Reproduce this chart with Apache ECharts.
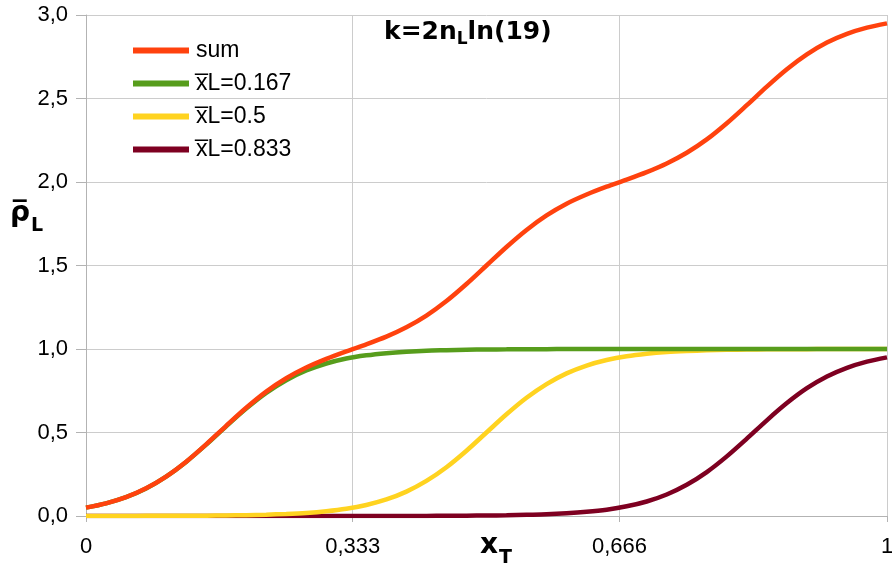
<!DOCTYPE html>
<html><head><meta charset="utf-8">
<script src="https://cdn.jsdelivr.net/npm/echarts@6/dist/echarts.min.js"></script>
<style>html,body{margin:0;padding:0;background:#fff}#c{width:892px;height:567px}</style>
</head><body><div id="c"></div>
<script>
const xs = [0,0.025,0.05,0.075,0.1,0.125,0.15,0.175,0.2,0.225,0.25,0.275,0.3,0.325,0.35,0.375,0.4,0.425,0.45,0.475,0.5,0.525,0.55,0.575,0.6,0.625,0.65,0.675,0.7,0.725,0.75,0.775,0.8,0.825,0.85,0.875,0.9,0.925,0.95,0.975,1];
const sumVals = [0.050,0.076,0.113,0.166,0.236,0.325,0.429,0.540,0.648,0.745,0.825,0.889,0.941,0.986,1.028,1.074,1.130,1.200,1.287,1.389,1.500,1.611,1.713,1.800,1.870,1.925,1.972,2.014,2.059,2.111,2.175,2.255,2.352,2.460,2.571,2.675,2.764,2.835,2.887,2.924,2.950];
const g167 = [0.050,0.076,0.113,0.165,0.236,0.324,0.427,0.537,0.643,0.737,0.813,0.871,0.913,0.943,0.962,0.975,0.984,0.990,0.993,0.996,0.997,0.998,0.999,0.999,1.000,1.000,1.000,1.000,1.000,1.000,1.000,1.000,1.000,1.000,1.000,1.000,1.000,1.000,1.000,1.000,1.000];
const y500 = [0.000,0.000,0.000,0.001,0.001,0.001,0.002,0.003,0.005,0.008,0.012,0.018,0.028,0.043,0.066,0.099,0.146,0.210,0.292,0.391,0.500,0.609,0.708,0.790,0.854,0.901,0.934,0.957,0.972,0.982,0.988,0.992,0.995,0.997,0.998,0.999,0.999,1.000,1.000,1.000,1.000];
const m833 = [0,0,0,0,0,0,0,0,0,0,0,0,0,0,0.0001,0.0002,0.0004,0.0007,0.0011,0.0017,0.003,0.004,0.007,0.010,0.016,0.025,0.038,0.058,0.087,0.129,0.187,0.263,0.357,0.463,0.573,0.676,0.765,0.835,0.887,0.924,0.950];
const names = ['sum','x\u0305L=0.167','x\u0305L=0.5','x\u0305L=0.833'];
const colors = ['#ff420e','#579d1c','#ffd320','#7e0021'];
const xTicks = [0,0.333,0.666,1];
const yTicks = [0,0.5,1,1.5,2,2.5,3];

const pair = arr => xs.map((x,i)=>[x,arr[i]]);
const allVals = [sumVals,g167,y500,m833];
const chart = echarts.init(document.getElementById('c'));
const fontFam = '"Liberation Sans", Arial, sans-serif';
chart.setOption({
  animation:false,
  grid:{left:86,right:5,top:15,bottom:51,outerBoundsMode:'none',containLabel:false},
  legend:{orient:'vertical',left:128,top:34,itemGap:10,itemWidth:56,itemHeight:6,
    icon:'rect',textStyle:{fontSize:23,fontFamily:fontFam,color:'#000',padding:[0,0,0,2]},
    data:names},
  xAxis:{type:'value',min:0,max:1,
    axisLine:{show:true,lineStyle:{color:'#b3b3b3'}},
    axisTick:{show:true,length:6,lineStyle:{color:'#b3b3b3'},customValues:xTicks},
    splitLine:{show:true,lineStyle:{color:'#cccccc'}},
    axisLabel:{customValues:xTicks,fontSize:22,fontFamily:fontFam,color:'#000',margin:20,
      formatter:v=>String(v).replace('.',',')}},
  yAxis:{type:'value',min:0,max:3,interval:0.5,
    axisLine:{show:true,lineStyle:{color:'#b3b3b3'}},
    axisTick:{show:true,length:10,lineStyle:{color:'#b3b3b3'}},
    splitLine:{show:true,lineStyle:{color:'#cccccc'}},
    axisLabel:{fontSize:22,fontFamily:fontFam,color:'#000',margin:18,
      formatter:v=>v.toFixed(1).replace('.',',')}},
  graphic:[
    {type:'text',left:384,top:20,style:{rich:{a:{fontSize:25,fontWeight:'bold',fontFamily:'DejaVu Sans',fill:'#000'},b:{fontSize:17,fontWeight:'bold',fontFamily:'DejaVu Sans',fill:'#000',padding:[14,0,0,0]}},text:'{a|k=2n}{b|L}{a|ln(19)}'}},
    {type:'text',left:10,top:200,style:{rich:{a:{fontSize:28,fontWeight:'bold',fontFamily:'DejaVu Sans',fill:'#000'},b:{fontSize:19,fontWeight:'bold',fontFamily:'DejaVu Sans',fill:'#000',padding:[24,0,0,1]}},text:'{a|ρ\u0305}{b|L}'}},
    {type:'text',left:480,top:532,style:{rich:{a:{fontSize:28,fontWeight:'bold',fontFamily:'DejaVu Sans',fill:'#000'},b:{fontSize:19,fontWeight:'bold',fontFamily:'DejaVu Sans',fill:'#000',padding:[24,0,0,1]}},text:'{a|x}{b|T}'}}
  ],
  series:[3,2,1,0].map(i=>({name:names[i],type:'line',smooth:0.3,showSymbol:false,z:10-i,
    lineStyle:{width:4.5,color:colors[i]},itemStyle:{color:colors[i]},data:pair(allVals[i])}))
});
</script></body></html>
